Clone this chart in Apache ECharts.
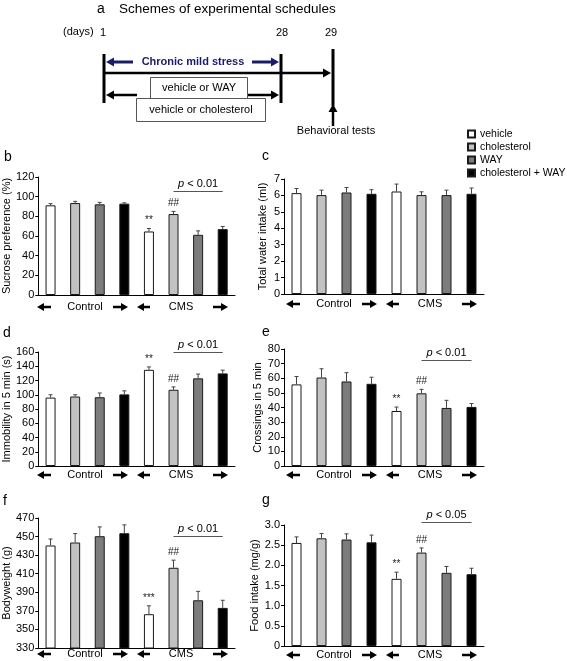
<!DOCTYPE html>
<html><head><meta charset="utf-8">
<script src="https://cdn.jsdelivr.net/npm/echarts@6/dist/echarts.min.js"></script>
<style>html,body{margin:0;padding:0;background:#fff}#c{width:567px;height:661px}</style>
</head><body><div id="c"></div>
<script>
// ---------------- DATA ----------------
const categories = ['Control vehicle','Control cholesterol','Control WAY','Control cholesterol + WAY',
                    'CMS vehicle','CMS cholesterol','CMS WAY','CMS cholesterol + WAY'];
const treatments = ['vehicle','cholesterol','WAY','cholesterol + WAY'];
const groupLabels = ['Control','CMS'];
const panelLetters = ['b','c','d','e','f','g'];
const scheduleTitle = 'Schemes of experimental schedules';
const scheduleDays = ['1','28','29'];
const scheduleTexts = ['(days)','Chronic mild stress','vehicle or WAY','vehicle or cholesterol','Behavioral tests'];

const sucroseMean = [91.2, 93.5, 92.2, 92.9, 64.6, 82.3, 61.2, 67.0];
const sucroseErr  = [1.7, 1.7, 2.0, 0.8, 3.0, 2.7, 4.0, 2.7];
const sucroseSig  = ['', '', '', '', '**', '##', '', ''];
const sucroseTicks = [0, 20, 40, 60, 80, 100, 120];

const waterMean = [6.14, 6.02, 6.18, 6.10, 6.24, 6.02, 6.02, 6.10];
const waterErr  = [0.28, 0.30, 0.30, 0.25, 0.45, 0.20, 0.30, 0.35];
const waterSig  = ['', '', '', '', '', '', '', ''];
const waterTicks = [0, 1, 2, 3, 4, 5, 6, 7];

const immobMean = [96, 97.5, 96.5, 100.5, 135, 107, 123, 130];
const immobErr  = [4, 2.5, 6, 5, 4, 4, 6, 4.5];
const immobSig  = ['', '', '', '', '**', '##', '', ''];
const immobTicks = [0, 20, 40, 60, 80, 100, 120, 140, 160];

const crossMean = [55.8, 60.5, 57.8, 56.2, 37.6, 49.7, 39.7, 40.4];
const crossErr  = [5.4, 6.0, 6.0, 4.5, 2.7, 2.7, 5.2, 2.3];
const crossSig  = ['', '', '', '', '**', '##', '', ''];
const crossTicks = [0, 10, 20, 30, 40, 50, 60, 70, 80];

const weightMean = [440.4, 443.6, 450.4, 453.6, 366.4, 416.4, 381.4, 373.2];
const weightErr  = [7, 9.6, 10, 9, 9, 8.2, 9.6, 8.2];
const weightSig  = ['', '', '', '', '***', '##', '', ''];
const weightTicks = [330, 350, 370, 390, 410, 430, 450, 470];

const foodMean = [2.555, 2.67, 2.64, 2.57, 1.665, 2.316, 1.814, 1.78];
const foodErr  = [0.15, 0.12, 0.14, 0.18, 0.165, 0.115, 0.157, 0.148];
const foodSig  = ['', '', '', '', '**', '##', '', ''];
const foodTicks = [0, 0.5, 1.0, 1.5, 2.0, 2.5, 3.0];

const pTexts = ['0.01', null, '0.01', '0.01', '0.01', '0.05'];

// ---------------- STYLE / LAYOUT ----------------
const FONT = '"Liberation Sans", Arial, Helvetica, sans-serif';
const fills = ['#ffffff', '#c2c2c2', '#7c7c7c', '#000000'];
const panels = [
  {name:'Sucrose preference (%)', mean:sucroseMean, err:sucroseErr, sig:sucroseSig, ticks:sucroseTicks,
   grid:{left:35, top:177, width:200, height:118}, nameGap:22, arrowDy:12, pGap:20, letter:[4,157]},
  {name:'Total water intake (ml)', mean:waterMean, err:waterErr, sig:waterSig, ticks:waterTicks,
   grid:{left:284, top:179, width:200, height:115}, nameGap:16, arrowDy:10, pGap:0, letter:[262,156]},
  {name:'Immobility in 5 min (s)', mean:immobMean, err:immobErr, sig:immobSig, ticks:immobTicks,
   grid:{left:35, top:352, width:200, height:114}, nameGap:22, arrowDy:9, pGap:18, letter:[3,333]},
  {name:'Crossings in 5 min', mean:crossMean, err:crossErr, sig:crossSig, ticks:crossTicks,
   grid:{left:284, top:349, width:200, height:117}, nameGap:16, arrowDy:9, pGap:29, letter:[262,332]},
  {name:'Bodyweight (g)', mean:weightMean, err:weightErr, sig:weightSig, ticks:weightTicks,
   grid:{left:35, top:518, width:200, height:130}, nameGap:22, arrowDy:6, pGap:24, letter:[3,501]},
  {name:'Food intake (mg/g)', mean:foodMean, err:foodErr, sig:foodSig, ticks:foodTicks,
   grid:{left:284, top:525, width:200, height:121}, nameGap:22, arrowDy:9, pGap:26, letter:[262,500],
   fmt: v => v === 0 ? '0' : v.toFixed(1)}
];

function arrow(x1, y1, x2, y2, color, w, hl, hw) {
  const dx = x2 - x1, dy = y2 - y1, L = Math.hypot(dx, dy), ux = dx / L, uy = dy / L;
  const bx = x2 - ux * hl, by = y2 - uy * hl;
  return [
    {type:'line', shape:{x1:x1, y1:y1, x2:bx + ux, y2:by + uy}, style:{stroke:color, lineWidth:w}, silent:true},
    {type:'polygon', shape:{points:[[x2, y2], [bx - uy * hw, by + ux * hw], [bx + uy * hw, by - ux * hw]]},
     style:{fill:color}, silent:true}
  ];
}
function txt(x, y, s, font, opts) {
  return Object.assign({type:'text', x:x, y:y, silent:true,
    style:Object.assign({text:s, font:font, fill:'#000', align:'center', verticalAlign:'middle'}, opts || {})});
}

const grids = [], xAxes = [], yAxes = [], series = [], graphics = [];

panels.forEach((p, i) => {
  grids.push(Object.assign({containLabel:false}, p.grid));
  xAxes.push({type:'category', gridIndex:i, data:categories, boundaryGap:true,
    axisLine:{lineStyle:{color:'#000', width:1}}, axisTick:{show:false}, axisLabel:{show:false}});
  const tmin = p.ticks[0], tmax = p.ticks[p.ticks.length - 1];
  yAxes.push({type:'value', gridIndex:i, min:tmin, max:tmax, interval:p.ticks[1] - p.ticks[0],
    name:p.name, nameLocation:'middle', nameGap:p.nameGap,
    nameTextStyle:{fontSize:11, color:'#000', fontFamily:FONT},
    axisLine:{show:true, lineStyle:{color:'#000', width:1}},
    axisTick:{show:true, length:3, lineStyle:{color:'#000'}, customValues:p.ticks},
    splitLine:{show:false},
    axisLabel:{fontSize:11, color:'#000', fontFamily:FONT, margin:4, customValues:p.ticks,
      formatter:p.fmt || (v => String(v))}});

  treatments.forEach((t, j) => {
    series.push({type:'bar', name:t, xAxisIndex:i, yAxisIndex:i, barWidth:10, barGap:'-100%',
      data:categories.map((c, k) => (k % 4 === j ? p.mean[k] : '-')),
      itemStyle:{color:fills[j], borderColor:'#1a1a1a', borderWidth:1}, silent:true});
  });

  // error bars + significance marks
  series.push({type:'custom', xAxisIndex:i, yAxisIndex:i, z:5, silent:true,
    data:p.mean.map((m, k) => [k, m, m + p.err[k]]),
    renderItem:(params, api) => {
      const k = params.dataIndex;
      const b = api.coord([api.value(0), api.value(1)]);
      const t = api.coord([api.value(0), api.value(2)]);
      const ch = [
        {type:'line', shape:{x1:t[0], y1:b[1], x2:t[0], y2:t[1]}, style:{stroke:'#444', lineWidth:1}},
        {type:'line', shape:{x1:t[0] - 2, y1:t[1], x2:t[0] + 2, y2:t[1]}, style:{stroke:'#444', lineWidth:1}}
      ];
      if (p.sig[k]) ch.push({type:'text', x:t[0], y:t[1] - 3,
        style:{text:p.sig[k], font:'10px ' + FONT, fill:'#222', align:'center', verticalAlign:'bottom'}});
      return {type:'group', children:ch};
    }});

  // p bracket
  if (pTexts[i]) {
    const topVal = Math.max(...[5, 6, 7].map(k => p.mean[k] + p.err[k]));
    series.push({type:'custom', xAxisIndex:i, yAxisIndex:i, z:6, silent:true, clip:false,
      data:[[5, 7, topVal]],
      renderItem:(params, api) => {
        const a = api.coord([api.value(0), api.value(2)]);
        const c = api.coord([api.value(1), api.value(2)]);
        const y = Math.round(a[1] - p.pGap) + 0.5;
        return {type:'group', children:[
          {type:'line', shape:{x1:a[0], y1:y, x2:c[0], y2:y}, style:{stroke:'#555', lineWidth:1}},
          {type:'text', x:(a[0] + c[0]) / 2, y:y - 2,
            style:{text:'{i|p} < ' + pTexts[i], font:'11px ' + FONT, fill:'#000', align:'center', verticalAlign:'bottom',
              rich:{i:{fontStyle:'italic', fontSize:11, fontFamily:FONT, fill:'#000'}}}}
        ]};
      }});
  }

  // group arrows under axis
  const x0 = p.grid.left, y0 = p.grid.top + p.grid.height + p.arrowDy;
  graphics.push(...arrow(x0 + 16, y0, x0 + 2, y0, '#000', 2.5, 7, 4));
  graphics.push(txt(x0 + 50, y0, groupLabels[0], '11px ' + FONT));
  graphics.push(...arrow(x0 + 78, y0, x0 + 93, y0, '#000', 2.5, 7, 4));
  graphics.push(...arrow(x0 + 115, y0, x0 + 102, y0, '#000', 2.5, 7, 4));
  graphics.push(txt(x0 + 146, y0, groupLabels[1], '11px ' + FONT));
  graphics.push(...arrow(x0 + 178, y0, x0 + 193, y0, '#000', 2.5, 7, 4));
  graphics.push(txt(p.letter[0], p.letter[1], panelLetters[i], '14px ' + FONT, {align:'left'}));
});

// ---------------- panel a (schematic) ----------------
const NAVY = '#1b1b6b';
graphics.push(txt(97, 9, 'a', '14px ' + FONT, {align:'left'}));
graphics.push(txt(119, 9, scheduleTitle, '13.5px ' + FONT, {align:'left'}));
graphics.push(txt(63, 32, scheduleTexts[0], '11px ' + FONT, {align:'left'}));
graphics.push(txt(103, 33, scheduleDays[0], '11px ' + FONT));
graphics.push(txt(282, 33, scheduleDays[1], '11px ' + FONT));
graphics.push(txt(331, 33, scheduleDays[2], '11px ' + FONT));
graphics.push({type:'line', shape:{x1:104, y1:54, x2:104, y2:103}, style:{stroke:'#000', lineWidth:3}, silent:true});
graphics.push({type:'line', shape:{x1:281, y1:54, x2:281, y2:103}, style:{stroke:'#000', lineWidth:3}, silent:true});
graphics.push({type:'line', shape:{x1:333, y1:49, x2:333, y2:106}, style:{stroke:'#000', lineWidth:3}, silent:true});
graphics.push(...arrow(133, 62, 106, 62, NAVY, 3, 8, 4.5));
graphics.push(...arrow(252, 62, 279, 62, NAVY, 3, 8, 4.5));
graphics.push(txt(193, 62, scheduleTexts[1], 'bold 11px ' + FONT, {fill:NAVY}));
graphics.push(...arrow(105, 73, 331, 73, '#000', 2.5, 8, 4.5));
graphics.push(...arrow(137, 95, 106, 95, '#000', 2.5, 8, 4.5));
graphics.push(...arrow(247, 95, 279, 95, '#000', 2.5, 8, 4.5));
graphics.push({type:'rect', shape:{x:150.5, y:77.5, width:97, height:21}, style:{fill:'#fff', stroke:'#555', lineWidth:1}, silent:true});
graphics.push(txt(199, 88, scheduleTexts[2], '11px ' + FONT));
graphics.push({type:'rect', shape:{x:136.5, y:98.5, width:129, height:23}, style:{fill:'#fff', stroke:'#555', lineWidth:1}, silent:true});
graphics.push(txt(201, 110, scheduleTexts[3], '11px ' + FONT));
graphics.push(...arrow(333, 126, 333, 104, '#000', 2.5, 8, 4.5));
graphics.push(txt(336, 131, scheduleTexts[4], '11px ' + FONT));

const chart = echarts.init(document.getElementById('c'), null, {renderer:'canvas'});
chart.setOption({
  animation:false,
  backgroundColor:'#fff',
  textStyle:{fontFamily:FONT},
  grid:grids, xAxis:xAxes, yAxis:yAxes, series:series,
  legend:{data:treatments, orient:'vertical', left:467, top:128, padding:0, itemWidth:7, itemHeight:7, itemGap:1,
    icon:'rect', selectedMode:false,
    textStyle:{fontSize:10.5, lineHeight:12, color:'#000', fontFamily:FONT}},
  graphic:{elements:graphics}
});
</script></body></html>
